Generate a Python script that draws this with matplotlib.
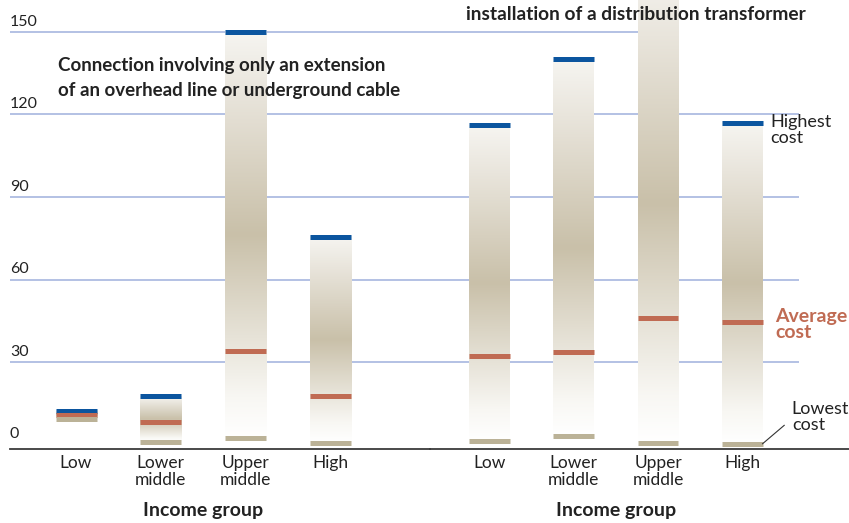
import numpy as np
import matplotlib
matplotlib.use("Agg")
import matplotlib.pyplot as plt
from matplotlib.colors import LinearSegmentedColormap
from matplotlib.transforms import blended_transform_factory

# ---- data -------------------------------------------------------------
groups = ["Low", "Lower\nmiddle", "Upper\nmiddle", "High"]

ext_highest = [12.3, 17.6, 150.0, 75.5]
ext_average = [10.6, 8.3, 34.0, 17.7]
ext_lowest = [9.2, 1.0, 2.4, 0.5]

trf_highest = [116.0, 140.0, 175.0, 117.0]
trf_average = [32.2, 33.6, 46.0, 44.5]
trf_lowest = [1.2, 3.1, 0.6, 0.3]

yticks = [0, 30, 60, 90, 120, 150]

# ---- style ------------------------------------------------------------
BLUE = "#0b559f"
ORANGE = "#c06b53"
TAN = "#bbb297"
GRID = "#9fb0dc"
TEXT = "#222222"
REG = ["Lato", "DejaVu Sans"]
BOLD = ["Lato", "DejaVu Sans"]

grad = LinearSegmentedColormap.from_list(
    "bar", [(0.0, "#ffffff"), (0.1, "#f8f7f3"), (0.5, "#c9c0a9"),
            (0.85, "#e9e5dc"), (1.0, "#f6f5f1")])

W, H = 849, 523
fig = plt.figure(figsize=(W / 100, H / 100), dpi=100)
YMIN, YMAX = -1.6, 161.6
bottom = (H - 449) / H
height = 449 / H
ax_l = fig.add_axes([10 / W, bottom, 420 / W, height])
ax_r = fig.add_axes([430 / W, bottom, 419 / W, height])

BW = 0.485
MARK_LW = 3.6


def draw_panel(ax, xlim, high, avg, low, grid_end):
    ax.set_xlim(*xlim)
    ax.set_ylim(YMIN, YMAX)
    for s in ("top", "left", "right"):
        ax.spines[s].set_visible(False)
    ax.spines["bottom"].set_color("#3a3a3a")
    ax.spines["bottom"].set_linewidth(1.3)
    ax.set_xticks([])
    ax.set_yticks([])
    ax.patch.set_alpha(0)

    x = np.arange(len(groups))
    # horizontal guide lines
    for v in yticks[1:]:
        ax.hlines(v, xlim[0], grid_end(v), color=GRID, lw=1.1, zorder=1)

    col = np.linspace(0, 1, 256).reshape(-1, 1)
    for xi, hi, av, lo in zip(x, high, avg, low):
        ax.imshow(col, cmap=grad, origin="lower", aspect="auto",
                  extent=[xi - BW / 2, xi + BW / 2, lo, hi],
                  interpolation="bilinear", zorder=2)
    ax.hlines(high, x - BW / 2, x + BW / 2, color=BLUE, lw=MARK_LW, zorder=3)
    ax.hlines(avg, x - BW / 2, x + BW / 2, color=ORANGE, lw=MARK_LW, zorder=3)
    ax.hlines(low, x - BW / 2, x + BW / 2, color=TAN, lw=MARK_LW, zorder=3)
    ax.set_xlim(*xlim)
    ax.set_ylim(YMIN, YMAX)

    for xi, g in zip(x, groups):
        ax.text(xi, -3.6, g, ha="center", va="top", fontsize=12.5,
                family=REG, color=TEXT, linespacing=1.1, clip_on=False)
    ax.text(1.5, -23.8, "Income group", ha="center", va="center",
            fontsize=14, family=BOLD, weight="bold", color=TEXT,
            clip_on=False)


draw_panel(ax_l, (-0.78, 4.18), ext_highest, ext_average, ext_lowest,
           lambda v: 4.18)
draw_panel(ax_r, (-0.71, 4.27), trf_highest, trf_average, trf_lowest,
           lambda v: 1.77 if v == 150 else 3.67)

# y tick labels sit just above their guide lines
tl = blended_transform_factory(ax_l.transAxes, ax_l.transData)
for v in yticks:
    ax_l.text(0.0, v + 2.3, str(v), transform=tl, ha="left",
              va="baseline", fontsize=11.5, family=REG, color=TEXT)

# panel headings
ax_l.text(-0.215, 133.3, "Connection involving only an extension\n"
          "of an overhead line or underground cable",
          ha="left", va="center", fontsize=13.5, family=BOLD,
          weight="bold", color=TEXT, linespacing=1.6)
ax_r.text(1.74, 156.2, "installation of a distribution transformer",
          ha="center", va="center", fontsize=13.8, family=BOLD,
          weight="bold", color=TEXT, clip_on=False)

# legend-style annotations beside the last bar
ax_r.text(3.33, 114.4, "Highest\ncost", ha="left", va="center",
          fontsize=13, family=REG, color=TEXT, linespacing=1.0)
ax_r.text(3.39, 43.6, "Average\ncost", ha="left", va="center",
          fontsize=14, family=BOLD, weight="bold", color=ORANGE,
          linespacing=0.9)
ax_r.text(3.59, 10.2, "Lowest\ncost", ha="left", va="center",
          fontsize=13, family=REG, color=TEXT, linespacing=1.0)
ax_r.plot([3.0 + BW / 2, 3.5], [0.3, 7.0], color="#333333", lw=0.8,
          zorder=4, clip_on=False)

fig.savefig("out.png", dpi=100)
